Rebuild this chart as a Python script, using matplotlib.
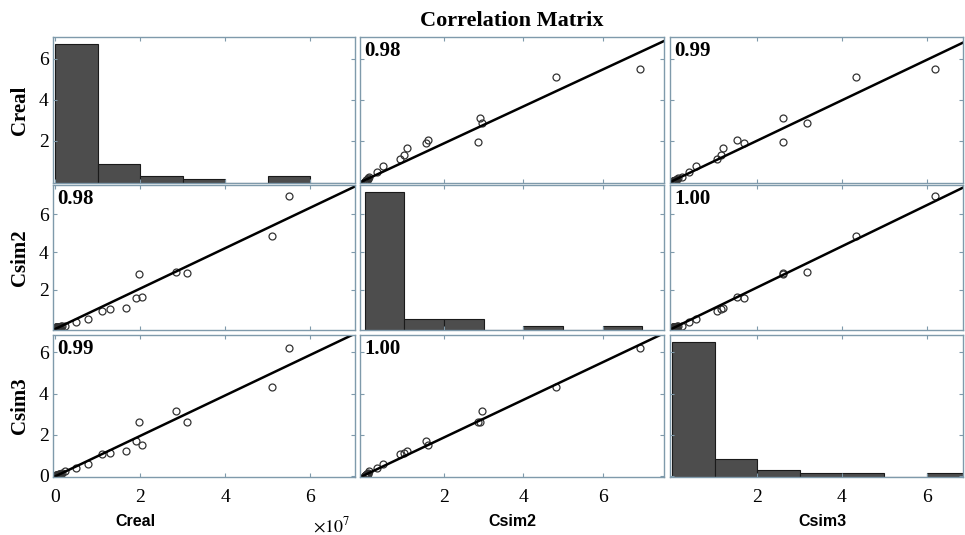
import numpy as np
import matplotlib.pyplot as plt

# values in units of 1e7
names = ['Creal', 'Csim2', 'Csim3']
creal = [5.51, 5.11, 2.85, 3.10, 1.97, 1.91, 2.04, 1.67, 1.11, 1.29, 0.78, 0.49, 0.24,
         0.17, 0.14, 0.12, 0.10, 0.09, 0.08, 0.07, 0.06, 0.06, 0.05, 0.05, 0.04,
         0.04, 0.03, 0.03, 0.03, 0.02, 0.02, 0.02, 0.02, 0.01, 0.01, 0.01, 0.01,
         0.01, 0.01, 0.00, 0.00, 0.00, 0.00, 0.00, 0.00, 0.00, 0.00]
csim2 = [6.95, 4.83, 2.97, 2.90, 2.86, 1.55, 1.60, 1.07, 0.88, 0.98, 0.47, 0.31, 0.11,
         0.08, 0.07, 0.06, 0.05, 0.05, 0.04, 0.04, 0.03, 0.03, 0.03, 0.03, 0.02,
         0.02, 0.02, 0.02, 0.02, 0.01, 0.01, 0.01, 0.01, 0.01, 0.01, 0.01, 0.01,
         0.00, 0.00, 0.00, 0.00, 0.00, 0.00, 0.00, 0.00, 0.00, 0.00]
csim3 = [6.20, 4.33, 3.17, 2.62, 2.62, 1.70, 1.52, 1.19, 1.06, 1.14, 0.57, 0.40, 0.24,
         0.15, 0.12, 0.10, 0.09, 0.08, 0.07, 0.06, 0.05, 0.05, 0.04, 0.04, 0.04,
         0.03, 0.03, 0.03, 0.02, 0.02, 0.02, 0.02, 0.02, 0.01, 0.01, 0.01, 0.01,
         0.01, 0.01, 0.01, 0.00, 0.00, 0.00, 0.00, 0.00, 0.00, 0.00]
r_vals = [[1.00, 0.98, 0.99],
          [0.98, 1.00, 1.00],
          [0.99, 1.00, 1.00]]
bin_edges = [0, 1, 2, 3, 4, 5, 6, 7]

data = [np.array(creal), np.array(csim2), np.array(csim3)]
lims = [(-0.05, 7.06), (-0.12, 7.55), (-0.05, 6.85)]

W, H = 965, 535
fig = plt.figure(figsize=(9.65, 5.35), dpi=100)
serif = 'Liberation Serif'
spine_c = '#7f9aab'

# panel edges in pixels
cols = [(53, 355), (360, 664), (670, 963)]
rows = [(37, 183), (185, 330), (335, 477)]

for i in range(3):
    for j in range(3):
        x0, x1 = cols[j]
        y0, y1 = rows[i]
        ax = fig.add_axes([x0 / W, 1 - y1 / H, (x1 - x0) / W, (y1 - y0) / H])
        xlo, xhi = lims[j]
        ylo, yhi = lims[i]
        if i == j:
            counts, edges = np.histogram(data[i], bins=bin_edges)
            h = counts / counts.max() * 0.95 * (yhi - ylo)
            ax.bar(edges[:-1], h, width=np.diff(edges), bottom=ylo, align='edge',
                   color='#4d4d4d', edgecolor='#1a1a1a', lw=0.8)
        else:
            x = data[j]
            y = data[i]
            ax.plot(x, y, 'o', mfc='none', mec='#333333', ms=5, mew=0.9)
            k, b = np.polyfit(x, y, 1)
            xx = np.array([xlo, xhi])
            ax.plot(xx, k * xx + b, color='black', lw=1.8)
            ax.text(0.015, 0.97, '%.2f' % r_vals[i][j], transform=ax.transAxes,
                    ha='left', va='top', fontsize=15, fontweight='bold', family=serif)
        ax.set_xlim(xlo, xhi)
        ax.set_ylim(ylo, yhi)
        ax.set_xticks([0, 2, 4, 6] if j == 0 else [2, 4, 6])
        ax.set_yticks([0, 2, 4, 6] if i == 2 else [2, 4, 6])
        ax.tick_params(direction='in', top=True, right=True, length=3, width=0.8,
                       color=spine_c, labelsize=14)
        ax.tick_params(axis='x', pad=9)
        ax.tick_params(axis='y', pad=3)
        for lab in ax.get_xticklabels() + ax.get_yticklabels():
            lab.set_family(serif)
        if i != 2:
            ax.set_xticklabels([])
        if j != 0:
            ax.set_yticklabels([])
        for s in ax.spines.values():
            s.set_color(spine_c)
            s.set_linewidth(1.0)

fig.text(512 / W, 1 - 21 / H, 'Correlation Matrix', ha='center', va='center',
         fontsize=16, fontweight='bold', family=serif)
for i in range(3):
    yc = (rows[i][0] + rows[i][1]) / 2
    fig.text(20 / W, 1 - yc / H, names[i], rotation=90, ha='center', va='center',
             fontsize=15, fontweight='bold', family=serif)
xlab_pos = [135, 512, 822]
for j in range(3):
    fig.text(xlab_pos[j] / W, 1 - 521 / H, names[j], ha='center', va='center',
             fontsize=11.5, fontweight='bold', family='Liberation Sans')
fig.text(332 / W, 1 - 526 / H, r'$\times 10^{7}$', ha='center', va='center',
         fontsize=13, family=serif, math_fontfamily='stix')

fig.savefig('out.png', dpi=100)
